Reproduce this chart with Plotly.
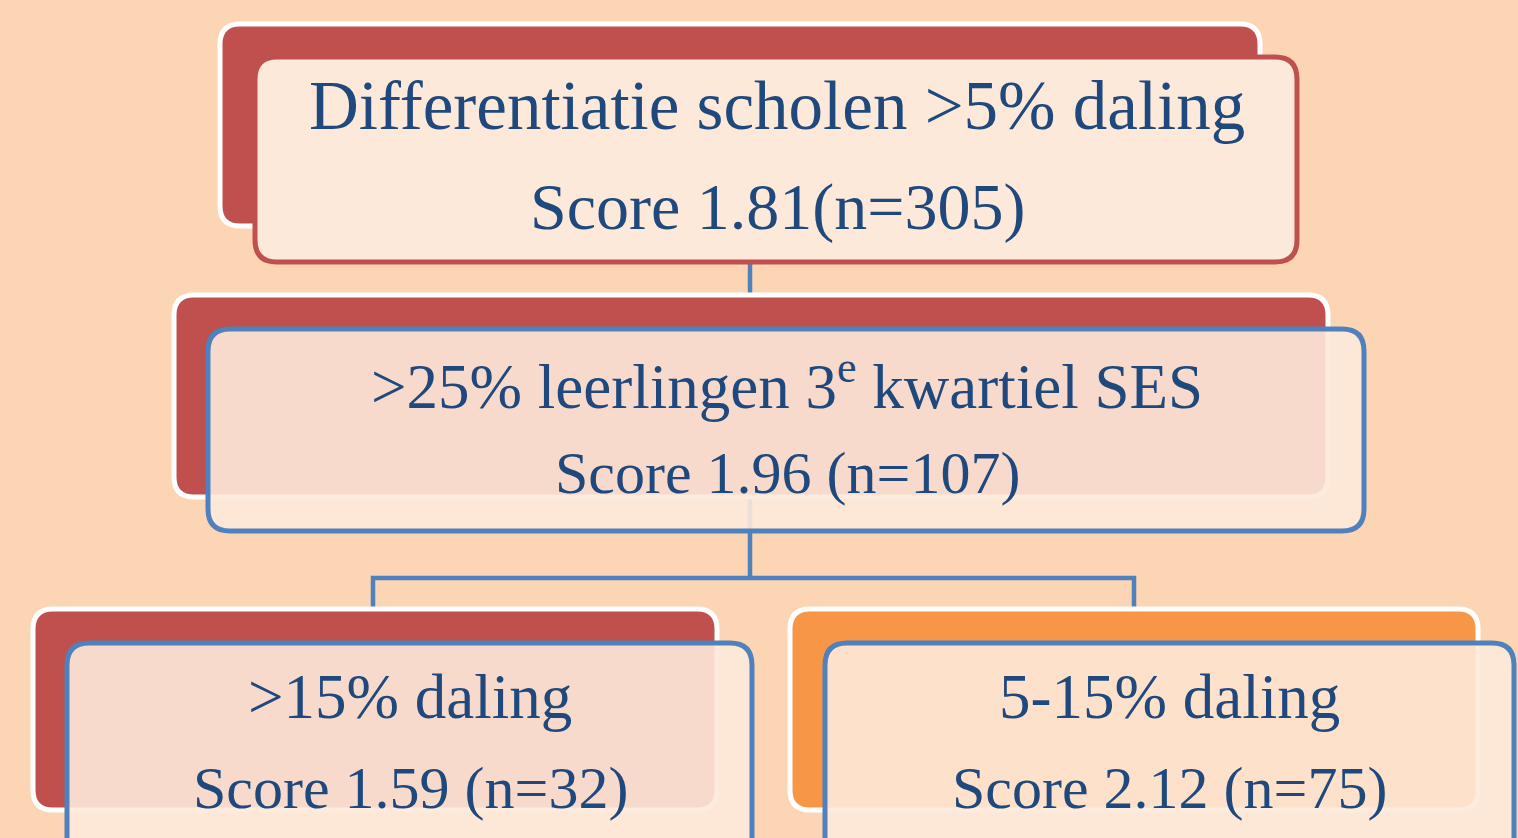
import plotly.graph_objects as go

# ---- data ----
titles = ["Differentiatie scholen >5% daling",
          ">25% leerlingen 3<sup>e</sup> kwartiel SES",
          ">15% daling",
          "5-15% daling"]
scores = ["1.81", "1.96", "1.59", "2.12"]
counts = [305, 107, 32, 75]
score_fmt = ["Score {s}(n={n})", "Score {s} (n={n})", "Score {s} (n={n})", "Score {s} (n={n})"]

# ---- layout of the diagram (pixel space) ----
W, H = 1518, 838
BG = "#FCD5B4"
RED = "#C0504D"
ORANGE = "#F79646"
BLUE = "#4F81BD"
TEXT = "#1F497D"

nodes = [
    dict(back=(220, 24, 1260, 226), front=(255, 57, 1297, 262), bcol=RED, fline=RED, opaque=True,
         cx=777, y1=106, y2=207, f1=69, f2=66),
    dict(back=(174, 295, 1328, 497), front=(208, 329, 1364, 531), bcol=RED, fline=BLUE, opaque=False,
         cx=787, y1=382, y2=473, f1=63, f2=60),
    dict(back=(33, 609, 717, 810), front=(67, 643, 752, 860), bcol=RED, fline=BLUE, opaque=False,
         cx=410, y1=697, y2=788, f1=63, f2=60),
    dict(back=(790, 609, 1478, 810), front=(825, 643, 1514, 860), bcol=ORANGE, fline=BLUE, opaque=False,
         cx=1169, y1=697, y2=788, f1=63, f2=60),
]

connectors = [
    [(750, 262), (750, 300)],
    [(750, 497), (750, 578)],
    [(373, 612), (373, 578), (1134, 578), (1134, 612)],
]


def rrect(x0, y0, x1, y1, r):
    return (f"M {x0+r},{y0} L {x1-r},{y0} Q {x1},{y0} {x1},{y0+r} "
            f"L {x1},{y1-r} Q {x1},{y1} {x1-r},{y1} L {x0+r},{y1} "
            f"Q {x0},{y1} {x0},{y1-r} L {x0},{y0+r} Q {x0},{y0} {x0+r},{y0} Z")


shapes = []
for pts in connectors:
    path = "M " + " L ".join(f"{x},{y}" for x, y in pts)
    shapes.append(dict(type="path", path=path, xref="x", yref="y",
                       line=dict(color=BLUE, width=4.5)))

annotations = []
for i, nd in enumerate(nodes):
    shapes.append(dict(type="path", path=rrect(*nd["back"], 20), xref="x", yref="y",
                       fillcolor=nd["bcol"], line=dict(color="white", width=5)))
    fill = "#FDE9D9" if nd["opaque"] else "rgba(253,233,217,0.9)"
    shapes.append(dict(type="path", path=rrect(*nd["front"], 22), xref="x", yref="y",
                       fillcolor=fill, line=dict(color=nd["fline"], width=5)))
    annotations.append(dict(x=nd["cx"], y=nd["y1"], xref="x", yref="y", text=titles[i],
                            showarrow=False, xanchor="center", yanchor="middle",
                            font=dict(family="Liberation Serif", size=nd["f1"], color=TEXT)))
    annotations.append(dict(x=nd["cx"], y=nd["y2"], xref="x", yref="y",
                            text=score_fmt[i].format(s=scores[i], n=counts[i]),
                            showarrow=False, xanchor="center", yanchor="middle",
                            font=dict(family="Liberation Serif", size=nd["f2"], color=TEXT)))

fig = go.Figure()
fig.update_layout(
    width=W, height=H, margin=dict(l=0, r=0, t=0, b=0),
    paper_bgcolor=BG, plot_bgcolor=BG,
    xaxis=dict(range=[0, W], visible=False, fixedrange=True),
    yaxis=dict(range=[H, 0], visible=False, fixedrange=True),
    shapes=shapes, annotations=annotations, showlegend=False,
)

fig.write_html("out.html", config={"displayModeBar": False},
               post_script="document.body.style.margin='0';document.body.style.overflow='hidden';")
